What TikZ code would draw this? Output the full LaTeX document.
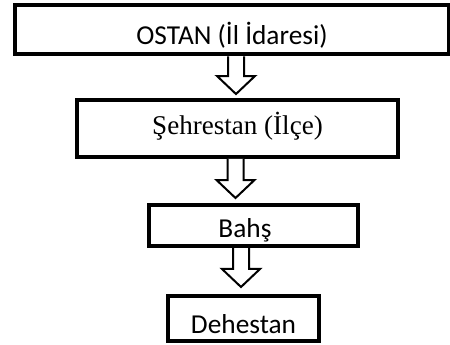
\documentclass[tikz,border=0pt]{standalone}
\usepackage{fontspec}
\newfontfamily\calib{Carlito}
\newfontfamily\timesr{Liberation Serif}
\usepackage{tikz}
\usetikzlibrary{calc}

\tikzset{
  box/.style={draw, line width=3pt, inner sep=0pt, font=\calib\fontsize{20.5}{24}\selectfont},
  hollowarrow/.style={draw, line width=1.5pt, fill=white, line join=miter}
}

\begin{document}
\begin{tikzpicture}[x=0.75pt,y=-0.75pt]
    \useasboundingbox (0,0) rectangle (450,344);

    % levels
    \node[box, minimum width=325.5pt, minimum height=37.1pt, text height=22pt, text depth=0pt]
      (ostan) at (232,29.75) {OSTAN (İl İdaresi)};
    \node[box, minimum width=240.75pt, minimum height=43.1pt, text height=14.5pt, text depth=4.4pt,
      font=\timesr\fontsize{20.3}{24}\selectfont]
      (sehrestan) at (237.5,128.25) {Şehrestan (İlçe)};
    \node[box, minimum width=156.75pt, minimum height=30.75pt, text height=17.5pt, text depth=0pt]
      (bahs) at (253.5,225.5) {Bahş\hspace*{12.75pt}};
    \node[box, minimum width=113.25pt, minimum height=33.4pt, text height=21.4pt, text depth=0pt]
      (dehestan) at (243.5,318.75) {Dehestan};

    % arrows
    \foreach \a/\b/\x/\g in {ostan/sehrestan/236/3.5, sehrestan/bahs/235.5/5, bahs/dehestan/241/7.5}
    \draw[hollowarrow] (\x-8,0 |- \a.south) -- ($(\x-8,0 |- \b.north)+(0,-\g-18)$)
      -- ++(-11,0) -- ($(\x,0 |- \b.north)+(0,-\g)$) -- ++(19,-18) -- ++(-11,0)
      -- (\x+8,0 |- \a.south);
\end{tikzpicture}
\end{document}
